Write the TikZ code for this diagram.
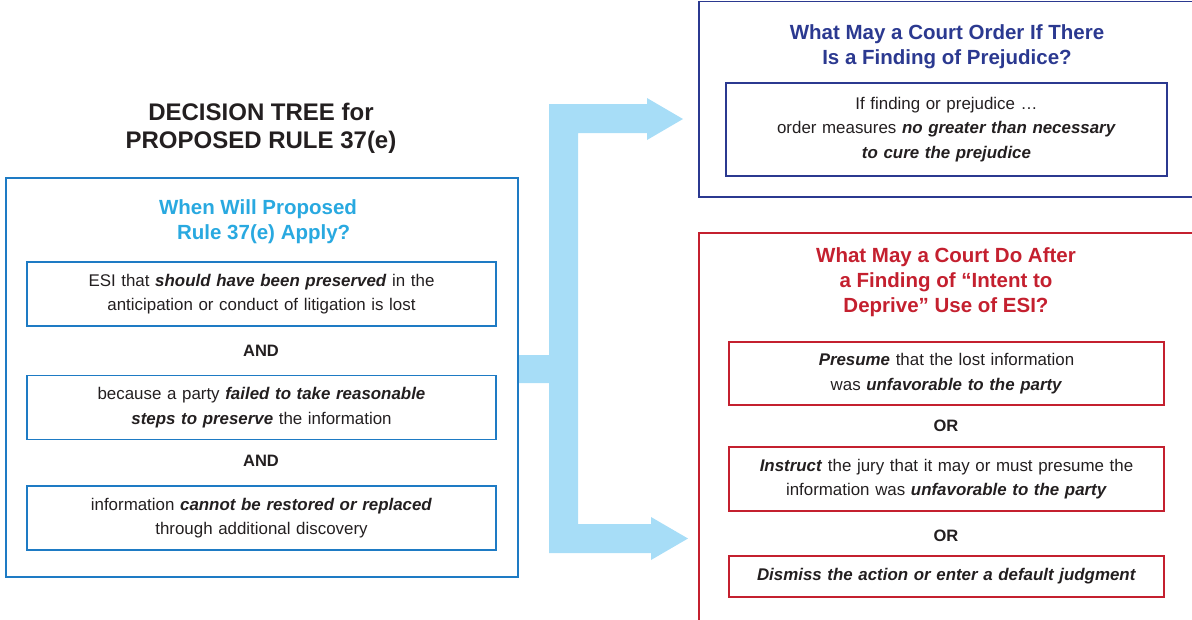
\documentclass[tikz,border=0pt]{standalone}
\usepackage{fontspec}
\setmainfont{Liberation Sans}
\usetikzlibrary{positioning}

\definecolor{frameblue}{HTML}{1E7BC4}
\definecolor{headcyan}{HTML}{29A9E0}
\definecolor{navyblue}{HTML}{2B3990}
\definecolor{courtred}{HTML}{C4202F}
\definecolor{arrowblue}{HTML}{A7DDF7}
\definecolor{ink}{HTML}{231F20}

\newcommand{\bemph}[1]{\textbf{\textit{#1}}}

\tikzset{
  box/.style={draw, line width=1.6pt, minimum height=#1, text width=430pt, align=center,
    inner sep=0pt, text=ink, font=\fontsize{16.9}{24.5}\selectfont},
  heading/.style={align=center, font=\bfseries\fontsize{20.5}{25}\selectfont},
  joiner/.style={text=ink, font=\bfseries\fontsize{16.5}{18}\selectfont},
  outer/.style={draw, line width=1.6pt}
}

\begin{document}
\begin{tikzpicture}[x=1pt, y=-1pt]
        \useasboundingbox (0,0) rectangle (1192,619);
        \clip (0,0) rectangle (1192,619);

        % titel
        \node [align=center, text=ink, font=\bfseries\fontsize{24}{27.5}\selectfont] (title) at (261,128.5)
            {DECISION TREE for\\PROPOSED RULE 37(e)};

        % pijl
        \fill [arrowblue] (518,355) -- (549,355) -- (549,104) -- (647,104) -- (647,98) -- (683,119)
            -- (647,140) -- (647,133) -- (578,133) -- (578,524) -- (651,524) -- (651,517)
            -- (688,538.5) -- (651,560) -- (651,553) -- (549,553) -- (549,383) -- (518,383) -- cycle;

        % linker kader
        \draw [outer, frameblue] (6,178) rectangle (518,577);
        \node [heading, text=headcyan] (when) at (258,221.5) {When Will Proposed\\\ \ Rule 37(e) Apply?};
        \node [box=64pt, draw=frameblue, minimum width=469pt] (lost) at (261.5,294)
            {ESI that \bemph{should have been preserved} in the\\anticipation or conduct of litigation is lost};
        \node [joiner] (and1) at (261,351) {AND};
        \node [box=64pt, draw=frameblue, minimum width=469pt] (failed) at (261.5,407.5)
            {because a party \bemph{failed to take reasonable}\\\bemph{steps to preserve} the information};
        \node [joiner] (and2) at (261,461) {AND};
        \node [box=64pt, draw=frameblue, minimum width=469pt] (restored) at (261.5,518)
            {information \bemph{cannot be restored or replaced}\\through additional discovery};

        % rechts boven
        \draw [outer, navyblue] (699,1.5) rectangle (1200,197);
        \node [heading, text=navyblue] (order) at (947,47) {What May a Court Order If There\\Is a Finding of Prejudice?};
        \node [box=93pt, draw=navyblue, minimum width=441pt] (cure) at (946.5,129.5)
            {If finding or prejudice \dots\\order measures \bemph{no greater than necessary}\\\bemph{to cure the prejudice}};

        % rechts onder
        \draw [outer, courtred] (699,233) rectangle (1200,640);
        \node [heading, text=courtred] (intent) at (946,282.5)
            {What May a Court Do After\\a Finding of ``Intent to\\Deprive'' Use of ESI?};
        \node [box=63pt, draw=courtred, minimum width=435pt] (presume) at (946.5,373.5)
            {\bemph{Presume} that the lost information\\was \bemph{unfavorable to the party}};
        \node [joiner] (or1) at (946,426) {OR};
        \node [box=64pt, draw=courtred, minimum width=435pt] (instruct) at (946.5,479)
            {\bemph{Instruct} the jury that it may or must presume the\\information was \bemph{unfavorable to the party}};
        \node [joiner] (or2) at (946,536) {OR};
        \node [box=41pt, draw=courtred, minimum width=435pt] (dismiss) at (946.5,576.5)
            {\bemph{Dismiss the action or enter a default judgment}};
\end{tikzpicture}
\end{document}
